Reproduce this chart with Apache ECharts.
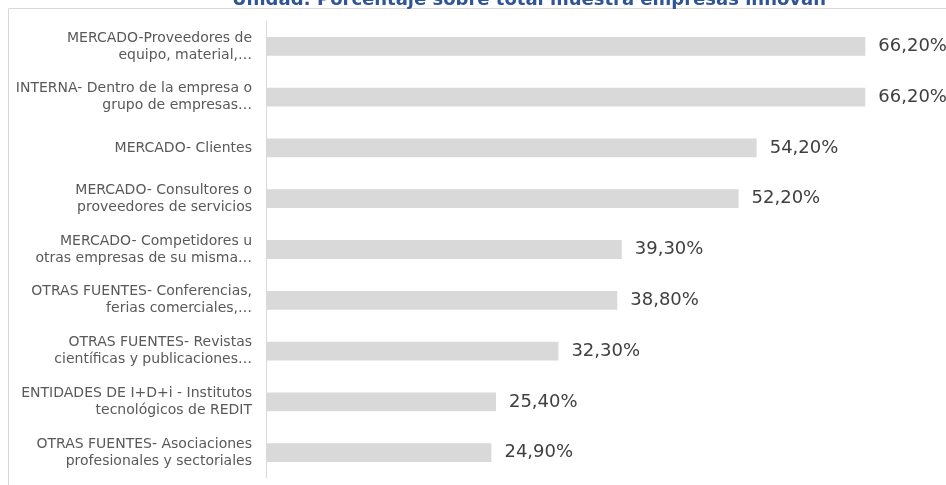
<!DOCTYPE html>
<html>
<head>
<meta charset="utf-8">
<script src="https://cdn.jsdelivr.net/npm/echarts@6/dist/echarts.min.js"></script>
<style>
  html, body { margin: 0; padding: 0; background: #ffffff; }
  #chart { width: 946px; height: 485px; }
</style>
</head>
<body>
<div id="chart"></div>
<script>
// Fuentes de información para la innovación
const categories = [
  'MERCADO-Proveedores de\nequipo, material,…',
  'INTERNA- Dentro de la empresa o\ngrupo de empresas…',
  'MERCADO- Clientes',
  'MERCADO- Consultores o\nproveedores de servicios',
  'MERCADO- Competidores u\notras empresas de su misma…',
  'OTRAS FUENTES- Conferencias,\nferias comerciales,…',
  'OTRAS FUENTES- Revistas\ncientíficas y publicaciones…',
  'ENTIDADES DE I+D+i - Institutos\ntecnológicos de REDIT',
  'OTRAS FUENTES- Asociaciones\nprofesionales y sectoriales'
];
const values = [66.2, 66.2, 54.2, 52.2, 39.3, 38.8, 32.3, 25.4, 24.9];
const titleText = 'Unidad: Porcentaje sobre total muestra empresas innovan';

const FONT = 'DejaVu Sans';
const chart = echarts.init(document.getElementById('chart'), null, { renderer: 'canvas' });

chart.setOption({
  animation: false,
  backgroundColor: '#ffffff',
  title: {
    text: titleText,
    left: 232,
    top: -9,
    padding: 0,
    textStyle: { color: '#2F5597', fontFamily: FONT, fontWeight: 'bold', fontSize: 18 }
  },
  graphic: [{
    type: 'rect',
    shape: { x: 8.5, y: 8.5, width: 1000, height: 1000 },
    style: { fill: 'none', stroke: '#d9d9d9', lineWidth: 1 },
    silent: true,
    z: -1
  }],
  grid: { left: 266, top: 21, width: 679, height: 457, containLabel: false },
  xAxis: {
    type: 'value',
    min: 0,
    max: 75,
    show: false
  },
  yAxis: {
    type: 'category',
    inverse: true,
    data: categories,
    axisLine: { show: true, lineStyle: { color: '#d9d9d9', width: 1 } },
    axisTick: { show: false },
    axisLabel: {
      margin: 14,
      color: '#595959',
      fontFamily: FONT,
      fontSize: 14,
      lineHeight: 17,
      align: 'right'
    }
  },
  series: [{
    type: 'bar',
    data: values,
    barCategoryGap: '63%',
    itemStyle: { color: '#d9d9d9' },
    label: {
      show: true,
      position: 'right',
      distance: 13,
      color: '#404040',
      fontFamily: FONT,
      fontSize: 18,
      formatter: p => p.value.toFixed(2).replace('.', ',') + '%'
    }
  }]
});
</script>
</body>
</html>
